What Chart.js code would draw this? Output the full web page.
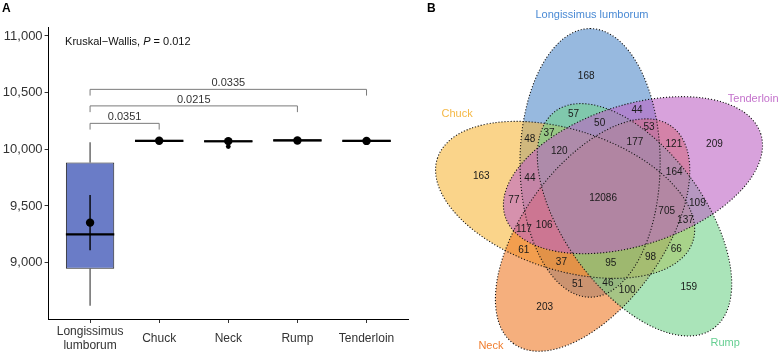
<!DOCTYPE html>
<html>
<head>
<meta charset="utf-8">
<script src="https://cdn.jsdelivr.net/npm/chart.js@4.4.1/dist/chart.umd.min.js"></script>
<style>
  html, body { margin: 0; padding: 0; background: #fff; }
  #wrap { position: relative; width: 780px; height: 353px; font-family: "Liberation Sans", Arial, sans-serif; }
  canvas { position: absolute; top: 0; }
  #boxChart { left: 0; }
  #vennChart { left: 420px; }
  .panel { position: absolute; font-weight: bold; font-size: 12px; line-height: 12px; color: #000; }
</style>
</head>
<body>
<div id="wrap">
  <canvas id="boxChart" width="420" height="353"></canvas>
  <canvas id="vennChart" width="360" height="353"></canvas>
  <div class="panel" style="left:2px;top:2px">A</div>
  <div class="panel" style="left:427px;top:2px">B</div>
</div>
<script>
// ---- panel A: gene counts per tissue ----
const TISSUES = [['Longissimus', 'lumborum'], 'Chuck', 'Neck', 'Rump', 'Tenderloin'];
const BOX_MIN = [8620, 10064, 10060, 10069, 10064];
const BOX_Q1 = [8947, 10064, 10060, 10069, 10064];
const BOX_MEDIAN = [9250, 10075, 10071, 10078, 10074];
const BOX_Q3 = [9883, 10084, 10080, 10088, 10084];
const BOX_MAX = [10062, 10084, 10080, 10088, 10084];
const MEANS = [9353, 10075, 10072, 10078, 10074];
const MEAN_ERR = [243, 5, 8, 4, 5];
const OUTLIER_TISSUE = [3];        // Neck
const OUTLIER_VALUE = [10024];
const Y_TICKS = [9000, 9500, 10000, 10500, 11000];

const PAIR_FROM = [1, 1, 1];
const PAIR_TO = [2, 4, 5];
const PAIR_P = ['0.0351', '0.0215', '0.0335'];
const PAIR_Y = [10229, 10383, 10529];
const KW_P = '0.012';

// ---- panel B: shared genes (A = Longissimus lumborum, B = Chuck, C = Neck, D = Rump, E = Tenderloin) ----
const SETS = ['Longissimus lumborum', 'Chuck', 'Neck', 'Rump', 'Tenderloin'];
const REGION_KEYS = ['A', 'B', 'C', 'D', 'E',
  'AB', 'AC', 'AD', 'AE', 'BC', 'BD', 'BE', 'CD', 'CE', 'DE',
  'ABC', 'ABD', 'ABE', 'ACD', 'ACE', 'ADE', 'BCD', 'BCE', 'BDE', 'CDE',
  'ABCD', 'ABCE', 'ABDE', 'ACDE', 'BCDE', 'ABCDE'];
const REGION_COUNTS = [168, 163, 203, 159, 209,
  48, 51, 57, 44, 61, 66, 77, 100, 121, 109,
  37, 37, 44, 46, 53, 50, 98, 117, 137, 164,
  95, 106, 120, 177, 705, 12086];

const SET_FILL = ['rgba(82,138,202,0.6)', 'rgba(247,183,60,0.6)', 'rgba(238,122,38,0.6)',
  'rgba(113,210,138,0.6)', 'rgba(190,100,197,0.6)'];
const SET_TEXT = ['#4a8ad4', '#f5b845', '#f07d2e', '#66cf92', '#c472cc'];

Chart.defaults.font.family = '"Liberation Sans", Arial, sans-serif';

const D2R = Math.PI / 180;
const INK = '#333';

// ellipse layout of the 5-set diagram (VennDiagram style)
const VENN_DIST = 0.13, VENN_A = 0.24, VENN_B = 0.46, VENN_START = -20;
const LETTERS = ['A', 'B', 'C', 'D', 'E'];
const ELLIPSES = SETS.map((s, i) => {
  const theta = (VENN_START - 72 * i) * D2R;
  return { cx: VENN_DIST * Math.sin(theta), cy: VENN_DIST * Math.cos(theta), phi: -72 * i * D2R };
});
// set name positions, in the same units
const SET_LABEL_X = [-0.038, -0.5, -0.384, 0.418, 0.514];
const SET_LABEL_Y = [0.628, 0.289, -0.505, -0.495, 0.341];

function insideEllipse(e, px, py) {
  const dx = px - e.cx, dy = py - e.cy;
  const s = Math.sin(e.phi), c = Math.cos(e.phi);
  const du = dx * s + dy * c, dv = dx * c - dy * s;
  return (du / VENN_B) ** 2 + (dv / VENN_A) ** 2 < 1;
}
function membership(px, py) {
  let key = '';
  ELLIPSES.forEach((e, i) => { if (insideEllipse(e, px, py)) key += LETTERS[i]; });
  return key;
}

// label point of each region = centroid of the region
const acc = {};
for (let gx = -0.65; gx <= 0.65; gx += 0.004) {
  for (let gy = -0.6; gy <= 0.7; gy += 0.004) {
    const key = membership(gx, gy);
    if (!key) continue;
    const a = acc[key] || (acc[key] = { sx: 0, sy: 0, n: 0, pts: [] });
    a.sx += gx; a.sy += gy; a.n++; a.pts.push([gx, gy]);
  }
}
const regionPoints = REGION_KEYS.map(key => {
  const a = acc[key];
  let x = a.sx / a.n, y = a.sy / a.n;
  if (membership(x, y) !== key) {
    let best = Infinity;
    a.pts.forEach(p => {
      const d = (p[0] - x) ** 2 + (p[1] - y) ** 2;
      if (d < best) { best = d; x = p[0]; y = p[1]; }
    });
  }
  return { x, y };
});

function line(ctx, x1, y1, x2, y2) {
  ctx.beginPath(); ctx.moveTo(x1, y1); ctx.lineTo(x2, y2); ctx.stroke();
}

const boxPlugin = {
  id: 'boxParts',
  afterDatasetDraw(chart, args) {
    if (chart.data.datasets[args.index].label !== 'box') return;
    const { ctx, scales: { x, y } } = chart;
    ctx.save();
    TISSUES.forEach((t, i) => {
      const cx = x.getPixelForValue(i + 1);
      const half = args.meta.data[i].width / 2;
      ctx.strokeStyle = '#222';
      ctx.lineWidth = 1;
      line(ctx, cx, y.getPixelForValue(BOX_Q3[i]), cx, y.getPixelForValue(BOX_MAX[i]));
      line(ctx, cx, y.getPixelForValue(BOX_Q1[i]), cx, y.getPixelForValue(BOX_MIN[i]));
      ctx.strokeStyle = '#000';
      ctx.lineWidth = 2.2;
      line(ctx, cx - half, y.getPixelForValue(BOX_MEDIAN[i]), cx + half, y.getPixelForValue(BOX_MEDIAN[i]));
      ctx.lineWidth = 1.4;
      line(ctx, cx, y.getPixelForValue(MEANS[i] - MEAN_ERR[i]), cx, y.getPixelForValue(MEANS[i] + MEAN_ERR[i]));
    });
    ctx.restore();
  },
  afterDatasetsDraw(chart) {
    const { ctx, scales: { x, y } } = chart;
    const tip = 55;
    ctx.save();
    ctx.font = '11px "Liberation Sans", Arial, sans-serif';
    PAIR_FROM.forEach((from, i) => {
      const x1 = x.getPixelForValue(from), x2 = x.getPixelForValue(PAIR_TO[i]);
      const yt = y.getPixelForValue(PAIR_Y[i]), yb = y.getPixelForValue(PAIR_Y[i] - tip);
      ctx.strokeStyle = '#7a7a7a';
      ctx.lineWidth = 1;
      ctx.beginPath();
      ctx.moveTo(x1, yb); ctx.lineTo(x1, yt); ctx.lineTo(x2, yt); ctx.lineTo(x2, yb);
      ctx.stroke();
      ctx.fillStyle = INK;
      ctx.textAlign = 'center';
      ctx.textBaseline = 'alphabetic';
      ctx.fillText(PAIR_P[i], (x1 + x2) / 2, yt - 3);
    });
    // Kruskal-Wallis annotation
    const parts = [['Kruskal\u2212Wallis, ', ''], ['P', 'italic '], [' = ' + KW_P, '']];
    let tx = x.getPixelForValue(0.638);
    const ty = y.getPixelForValue(10950);
    ctx.textAlign = 'left';
    ctx.textBaseline = 'middle';
    ctx.fillStyle = '#111';
    parts.forEach(([s, style]) => {
      ctx.font = style + '11px "Liberation Sans", Arial, sans-serif';
      ctx.fillText(s, tx, ty);
      tx += ctx.measureText(s).width;
    });
    ctx.restore();
  }
};

new Chart(document.getElementById('boxChart'), {
  type: 'bar',
  data: {
    datasets: [
      {
        type: 'scatter', label: 'mean', order: 0,
        data: MEANS.map((m, i) => ({ x: i + 1, y: m })),
        pointRadius: 4.2, pointBackgroundColor: '#000', pointBorderWidth: 0
      },
      {
        type: 'scatter', label: 'outlier', order: 1,
        data: OUTLIER_VALUE.map((v, i) => ({ x: OUTLIER_TISSUE[i], y: v })),
        pointRadius: 2.4, pointBackgroundColor: '#000', pointBorderWidth: 0
      },
      {
        type: 'bar', label: 'box', order: 2,
        data: BOX_Q1.map((q, i) => ({ x: i + 1, y: [q, BOX_Q3[i]] })),
        backgroundColor: '#6a7cc7', borderColor: '#222', borderWidth: 1, borderSkipped: false,
        barPercentage: 0.7, categoryPercentage: 1
      }
    ]
  },
  options: {
    responsive: false,
    animation: false,
    events: [],
    layout: { padding: { top: 27, right: 12, left: 0, bottom: 0 } },
    plugins: { legend: { display: false }, tooltip: { enabled: false } },
    scales: {
      x: {
        type: 'linear', min: 0.4, max: 5.6, offset: false,
        afterBuildTicks: axis => { axis.ticks = TISSUES.map((t, i) => ({ value: i + 1 })); },
        afterFit: axis => { axis.height = 34; },
        ticks: {
          callback: v => TISSUES[v - 1], color: INK, font: { size: 12, lineHeight: 1.1 },
          padding: 9, maxRotation: 0, autoSkip: false, crossAlign: 'center'
        },
        grid: { drawOnChartArea: false, tickLength: 4, color: INK, offset: false },
        border: { display: true, color: '#000', width: 1 }
      },
      y: {
        min: 8503, max: 11079,
        afterBuildTicks: axis => { axis.ticks = Y_TICKS.map(v => ({ value: v })); },
        afterFit: axis => { axis.width = 48.6; },
        ticks: { callback: v => Number(v).toLocaleString('en-US'), color: INK, font: { size: 13 }, padding: 2 },
        grid: { drawOnChartArea: false, tickLength: 4, color: INK },
        border: { display: true, color: '#000', width: 1 }
      }
    }
  },
  plugins: [boxPlugin]
});

const vennPlugin = {
  id: 'venn',
  beforeDatasetsDraw(chart) {
    const { ctx, scales: { x, y } } = chart;
    const unit = x.getPixelForValue(1) - x.getPixelForValue(0);
    const path = e => {
      ctx.beginPath();
      ctx.ellipse(x.getPixelForValue(e.cx), y.getPixelForValue(e.cy), VENN_B * unit, VENN_A * unit,
        e.phi - Math.PI / 2, 0, 2 * Math.PI);
    };
    ctx.save();
    ELLIPSES.forEach((e, i) => { path(e); ctx.fillStyle = SET_FILL[i]; ctx.fill(); });
    ctx.setLineDash([1.1, 1.9]);
    ctx.lineWidth = 1.1;
    ctx.strokeStyle = '#111';
    ELLIPSES.forEach(e => { path(e); ctx.stroke(); });
    ctx.restore();
  },
  afterDatasetsDraw(chart) {
    const { ctx, scales: { x, y } } = chart;
    const meta = chart.getDatasetMeta(0);
    ctx.save();
    ctx.textAlign = 'center';
    ctx.textBaseline = 'middle';
    ctx.font = '10px "Liberation Sans", Arial, sans-serif';
    ctx.fillStyle = '#1a1a1a';
    meta.data.forEach((pt, i) => ctx.fillText(String(REGION_COUNTS[i]), pt.x, pt.y));
    ctx.font = '11px "Liberation Sans", Arial, sans-serif';
    SETS.forEach((s, i) => {
      ctx.fillStyle = SET_TEXT[i];
      ctx.fillText(s, x.getPixelForValue(SET_LABEL_X[i]), y.getPixelForValue(SET_LABEL_Y[i]));
    });
    ctx.restore();
  }
};

new Chart(document.getElementById('vennChart'), {
  type: 'scatter',
  data: { datasets: [{ label: 'regions', data: regionPoints, pointRadius: 0 }] },
  options: {
    responsive: false,
    animation: false,
    events: [],
    layout: { padding: 0 },
    plugins: { legend: { display: false }, tooltip: { enabled: false } },
    scales: {
      x: { type: 'linear', display: false, min: -0.627, max: 0.606 },
      y: { type: 'linear', display: false, min: -0.529, max: 0.680 }
    }
  },
  plugins: [vennPlugin]
});
</script>
</body>
</html>
